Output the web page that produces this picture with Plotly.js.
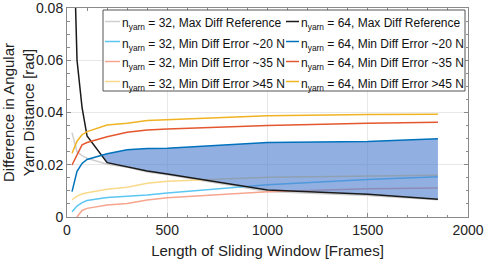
<!DOCTYPE html>
<html>
<head>
<meta charset="utf-8">
<script src="https://cdn.plot.ly/plotly-3.0.1.min.js"></script>
<style>html,body{margin:0;padding:0;background:#fff;}#chart{width:484px;height:259px;}</style>
</head>
<body>
<div id="chart"></div>
<script>
// Sliding window lengths [frames]
const frames = [25, 50, 75, 100, 200, 300, 400, 500, 1000, 1500, 1850];

// n_yarn = 32
const max32 = [0.0323, 0.0250, 0.0235, 0.0225, 0.0202, 0.0190, 0.0172, 0.0162, 0.0098, 0.0082, 0.0066];
const err20_32 = [0.0020, 0.0042, 0.0055, 0.0063, 0.0075, 0.0080, 0.0084, 0.0092, 0.0123, 0.0144, 0.0154];
const err35_32 = [-0.0040, 0.0000, 0.0025, 0.0033, 0.0046, 0.0052, 0.0065, 0.0074, 0.0097, 0.0108, 0.0111];
const err45_32 = [0.0066, 0.0080, 0.0088, 0.0093, 0.0106, 0.0114, 0.0129, 0.0137, 0.0152, 0.0157, 0.0160];

// n_yarn = 64
const max64 = [0.1300, 0.0600, 0.0420, 0.0310, 0.0208, 0.0193, 0.0176, 0.0165, 0.0103, 0.0087, 0.0068];
const err20_64 = [0.0097, 0.0175, 0.0205, 0.0220, 0.0242, 0.0257, 0.0262, 0.0263, 0.0285, 0.0289, 0.0300];
const err35_64 = [0.0199, 0.0240, 0.0276, 0.0285, 0.0307, 0.0324, 0.0333, 0.0337, 0.0350, 0.0359, 0.0363];
const err45_64 = [0.0244, 0.0290, 0.0315, 0.0327, 0.0352, 0.0359, 0.0369, 0.0372, 0.0388, 0.0392, 0.0393];

const xTicks = [0, 500, 1000, 1500, 2000];
const yTicks = [0, 0.02, 0.04, 0.06, 0.08];

const seriesLabels = ['Max Diff Reference', 'Min Diff Error ~20 N', 'Min Diff Error ~35 N', 'Min Diff Error >45 N'];
const colors32 = ['#cfcfcf', '#5cc6f2', '#f6a58f', '#f9d98a'];
const colors64 = ['#1a1a1a', '#0072bd', '#e4572e', '#f0b323'];
const data32 = [max32, err20_32, err35_32, err45_32];
const data64 = [max64, err20_64, err35_64, err45_64];

// Shaded band where min-diff error (64, ~20 N) exceeds max-diff reference (64)
function bandPolygon(xs, upper, lower) {
  const px = [], pu = [], pl = [];
  for (let i = 0; i < xs.length; i++) {
    const d = upper[i] - lower[i];
    if (i > 0) {
      const dp = upper[i-1] - lower[i-1];
      if (dp < 0 && d >= 0) {
        const t = -dp / (d - dp);
        px.push(xs[i-1] + t * (xs[i] - xs[i-1]));
        const yv = lower[i-1] + t * (lower[i] - lower[i-1]);
        pu.push(yv); pl.push(yv);
      }
    }
    if (d >= 0) { px.push(xs[i]); pu.push(upper[i]); pl.push(lower[i]); }
  }
  return { x: px.concat(px.slice().reverse()), y: pu.concat(pl.slice().reverse()) };
}
const band = bandPolygon(frames, err20_64, max64);

const lbl = (n, s) => 'n<sub>yarn</sub> = ' + n + ', ' + s;

const traces = [];
data32.forEach((ys, i) => traces.push({ x: frames, y: ys, name: lbl(32, seriesLabels[i]), line: { color: colors32[i], width: 1.5 } }));
traces.push({ x: band.x, y: band.y, fill: 'toself', fillcolor: 'rgba(72,122,205,0.6)', line: { width: 0 }, hoverinfo: 'skip', name: 'band' });
data64.forEach((ys, i) => traces.push({ x: frames, y: ys, name: lbl(64, seriesLabels[i]), line: { color: colors64[i], width: 1.5 } }));
traces.forEach(t => { t.type = 'scatter'; t.mode = 'lines'; t.showlegend = false; });

// Legend (two columns, framed box) placed in the plot's upper area
const PL = 67, PR = 468, PT = 8, PB = 217;
const px2x = p => (p - PL) / (PR - PL);
const px2y = p => (PB - p) / (PB - PT);
const shapes = [{
  type: 'rect', xref: 'paper', yref: 'paper', layer: 'above',
  x0: px2x(103), x1: px2x(465), y0: px2y(91), y1: px2y(10),
  fillcolor: '#ffffff', line: { color: '#555555', width: 1 }
}];
const annotations = [];
const cols = [
  { lineX0: 105, lineX1: 120, textX: 121, n: 32, colors: colors32 },
  { lineX0: 286, lineX1: 299, textX: 300, n: 64, colors: colors64 }
];
cols.forEach(c => {
  seriesLabels.forEach((s, r) => {
    const yRow = 21.5 + 20 * r;
    shapes.push({ type: 'line', xref: 'paper', yref: 'paper', layer: 'above',
      x0: px2x(c.lineX0), x1: px2x(c.lineX1), y0: px2y(yRow), y1: px2y(yRow),
      line: { color: c.colors[r], width: 1.5 } });
    annotations.push({ xref: 'paper', yref: 'paper', x: px2x(c.textX), y: px2y(yRow),
      xanchor: 'left', yanchor: 'middle', yshift: -3, showarrow: false, align: 'left',
      text: lbl(c.n, s), borderpad: 0,
      font: { family: 'Liberation Sans, Arial, sans-serif', size: 12, color: '#111' } });
  });
});

const axisCommon = {
  showline: true, linecolor: '#8a8a8a', linewidth: 1, mirror: 'ticks',
  ticks: 'inside', ticklen: 4, tickcolor: '#8a8a8a',
  showgrid: true, gridcolor: '#e8e8e8', zeroline: false,
  ticklabeloverflow: 'allow',
  tickfont: { family: 'Liberation Sans, Arial, sans-serif', size: 14, color: '#222' }
};

const layout = {
  width: 484, height: 259,
  margin: { l: PL, r: 484 - PR, t: PT, b: 259 - PB },
  paper_bgcolor: '#fff', plot_bgcolor: '#fff',
  font: { family: 'Liberation Sans, Arial, sans-serif', color: '#222' },
  showlegend: false,
  xaxis: Object.assign({}, axisCommon, {
    range: [0, 2000], tickvals: xTicks, ticktext: xTicks.map(String),
    minor: { dtick: 100, ticks: 'inside', ticklen: 2.5, tickcolor: '#8a8a8a', showgrid: false },
    title: { text: 'Length of Sliding Window [Frames]', font: { size: 15 }, standoff: 8 }
  }),
  yaxis: Object.assign({}, axisCommon, {
    range: [0, 0.08], tickvals: yTicks, ticktext: yTicks.map(v => v === 0 ? '0' : v.toFixed(2)),
    minor: { dtick: 0.005, ticks: 'inside', ticklen: 2.5, tickcolor: '#8a8a8a', showgrid: false },
    title: { text: 'Difference in Angular<br>Yarn Distance [rad]', font: { size: 15 }, standoff: 6 }
  }),
  shapes: shapes,
  annotations: annotations
};

Plotly.newPlot('chart', traces, layout, { displayModeBar: false, staticPlot: true });
</script>
</body>
</html>
